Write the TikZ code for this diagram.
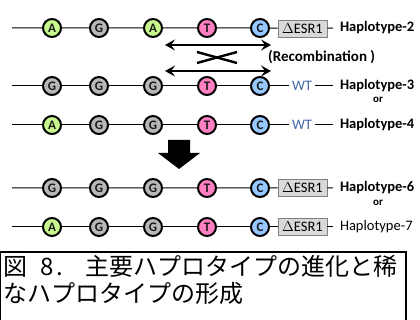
\documentclass[tikz,border=0pt]{standalone}
\usepackage{fontspec}
\setmainfont{Carlito}
\newfontfamily\cjk{Noto Sans CJK JP}
\usetikzlibrary{arrows.meta}
\definecolor{cA}{HTML}{C6F68C}
\definecolor{cG}{HTML}{B8B8B8}
\definecolor{cT}{HTML}{FF80C0}
\definecolor{cC}{HTML}{96C8FF}
\definecolor{boxgray}{HTML}{D9D9D9}
\definecolor{boxline}{HTML}{808080}
\definecolor{wtblue}{HTML}{4466A8}
\begin{document}
\begin{tikzpicture}[x=1pt,y=-1pt,
  base/.style={circle,draw=black,line width=2pt,minimum size=18pt,inner sep=0pt,
    font=\bfseries\fontsize{13}{13}\selectfont,text=black!90},
  nA/.style={base,fill=cA},
  nG/.style={base,fill=cG},
  nT/.style={base,fill=cT},
  nC/.style={base,fill=cC},
  esr/.style={draw=boxline,fill=boxgray,line width=0.9pt,minimum width=49pt,minimum height=17pt,
    inner sep=0pt,font=\fontsize{14.5}{14.5}\selectfont},
  hap/.style={anchor=west,inner sep=0pt,outer sep=7pt,font=\bfseries\fontsize{14.5}{14.5}\selectfont},
  haplight/.style={anchor=west,inner sep=0pt,outer sep=7pt,font=\fontsize{14.5}{14.5}\selectfont},
  wt/.style={inner sep=3pt,text=wtblue,font=\fontsize{14.5}{14.5}\selectfont},
  orlab/.style={inner sep=0pt,font=\bfseries\fontsize{11}{11}\selectfont},
  wire/.style={line width=1pt},
  dbl/.style={line width=2pt,{Stealth[length=10pt,width=11pt,inset=4pt]}-{Stealth[length=10pt,width=11pt,inset=4pt]}},
  cross/.style={line width=2.4pt},
  captext/.style={anchor=base west,inner sep=0pt,font=\cjk\fontsize{24}{26}\selectfont}
]
\useasboundingbox (0,0) rectangle (420,320);

% ---------- row 1 : Haplotype-2 ----------
\coordinate (r1s) at (12,28);
\node[nA] (r1a) at (52,28) {A};
\node[nG] (r1b) at (99,28) {G};
\node[nA] (r1c) at (153,28) {A};
\node[nT] (r1d) at (207,28) {T};
\node[nC] (r1e) at (260,28) {C};
\node[esr] (r1x) at (302.5,28.5) {$\Delta$ESR1};
\coordinate (r1t) at (333,28);
\node[hap] (r1h) at (333,28) {Haplotype-2};
\draw[wire] (r1s) -- (r1a) -- (r1b) -- (r1c) -- (r1d) -- (r1e) -- (r1x);
\draw[wire] (r1x) -- (r1t);

% ---------- recombination ----------
\coordinate (a1l) at (165,45);
\coordinate (a1r) at (271,45);
\coordinate (a2l) at (165,71);
\coordinate (a2r) at (271,71);
\draw[dbl] (a1l) -- (a1r);
\draw[dbl] (a2l) -- (a2r);
\coordinate (x1) at (197,52);
\coordinate (x2) at (237,63);
\coordinate (x3) at (197,63);
\coordinate (x4) at (237,52);
\draw[cross] (x1) -- (x2);
\draw[cross] (x3) -- (x4);
\node[inner sep=0pt,anchor=west,font=\bfseries\fontsize{15}{15}\selectfont] (rec) at (268,57) {(Recombination )};

% ---------- row 2 : Haplotype-3 ----------
\coordinate (r2s) at (12,86);
\node[nG] (r2a) at (52,86) {G};
\node[nG] (r2b) at (99,86) {G};
\node[nG] (r2c) at (153,86) {G};
\node[nT] (r2d) at (207,86) {T};
\node[nC] (r2e) at (260,86) {C};
\node[wt] (r2w) at (302,86) {WT};
\node[hap] (r2h) at (333,86) {Haplotype-3};
\draw[wire] (r2s) -- (r2a) -- (r2b) -- (r2c) -- (r2d) -- (r2e) -- (r2w) -- (r2h);
\node[orlab] (or1) at (378,100) {or};

% ---------- row 3 : Haplotype-4 ----------
\coordinate (r3s) at (12,125);
\node[nA] (r3a) at (52,125) {A};
\node[nG] (r3b) at (99,125) {G};
\node[nG] (r3c) at (153,125) {G};
\node[nT] (r3d) at (207,125) {T};
\node[nC] (r3e) at (260,125) {C};
\node[wt] (r3w) at (302,125) {WT};
\node[hap] (r3h) at (333,125) {Haplotype-4};
\draw[wire] (r3s) -- (r3a) -- (r3b) -- (r3c) -- (r3d) -- (r3e) -- (r3w) -- (r3h);

% ---------- big arrow ----------
\fill[black] (168,140) -- (190,140) -- (190,153) -- (200,153) -- (179,169) -- (158,153) -- (168,153) -- cycle;

% ---------- row 4 : Haplotype-6 ----------
\coordinate (r4s) at (12,188);
\node[nG] (r4a) at (52,188) {G};
\node[nG] (r4b) at (99,188) {G};
\node[nG] (r4c) at (153,188) {G};
\node[nT] (r4d) at (207,188) {T};
\node[nC] (r4e) at (260,188) {C};
\node[esr] (r4x) at (302.5,187.5) {$\Delta$ESR1};
\coordinate (r4t) at (333,188);
\node[hap] (r4h) at (333,188) {Haplotype-6};
\draw[wire] (r4s) -- (r4a) -- (r4b) -- (r4c) -- (r4d) -- (r4e) -- (r4x);
\draw[wire] (r4x) -- (r4t);
\node[orlab] (or2) at (378,203) {or};

% ---------- row 5 : Haplotype-7 ----------
\coordinate (r5s) at (12,227);
\node[nA] (r5a) at (52,227) {A};
\node[nG] (r5b) at (99,227) {G};
\node[nG] (r5c) at (153,227) {G};
\node[nT] (r5d) at (207,227) {T};
\node[nC] (r5e) at (260,227) {C};
\node[esr] (r5x) at (302.5,227) {$\Delta$ESR1};
\coordinate (r5t) at (333,227);
\node[haplight] (r5h) at (333,227) {Haplotype-7};
\draw[wire] (r5s) -- (r5a) -- (r5b) -- (r5c) -- (r5d) -- (r5e) -- (r5x);
\draw[wire] (r5x) -- (r5t);

% ---------- caption ----------
\draw[line width=1.2pt] (0.6,326) -- (0.6,252) -- (406,252) -- (406,326);
\node[captext] (cap1) at (3,276) {図\kern13pt 8\kern3pt.\kern22pt主要ハプロタイプの進化と稀};
\node[captext] (cap2) at (3,302) {なハプロタイプの形成};
\end{tikzpicture}
\end{document}
